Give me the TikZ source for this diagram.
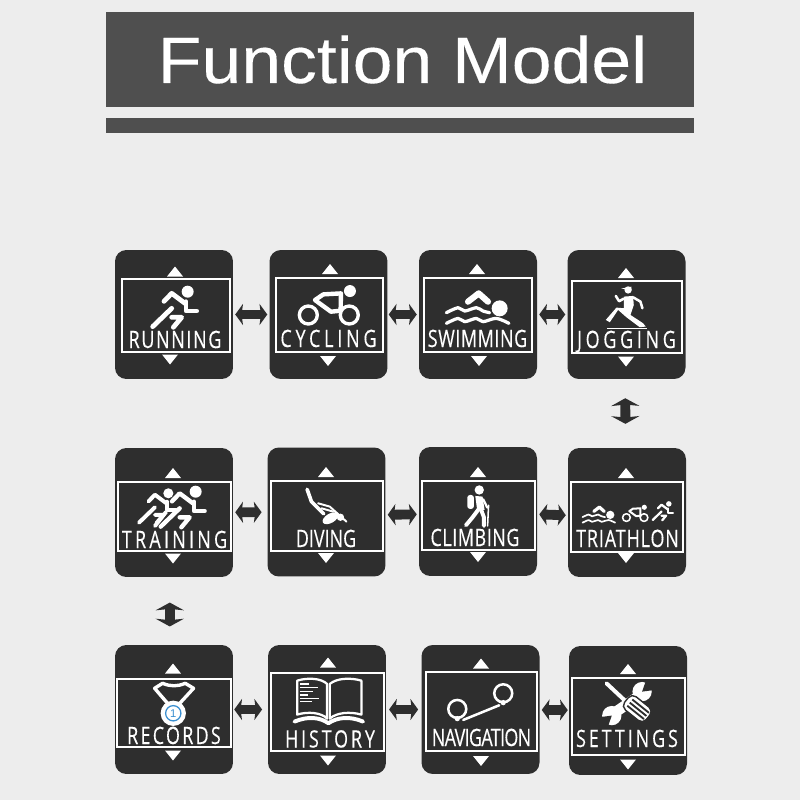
\documentclass[tikz,border=0pt]{standalone}
\usepackage{fontspec}
\usetikzlibrary{arrows.meta}
\setmainfont{Liberation Sans}
\newfontfamily\labelfamily[FakeStretch=0.75, FakeBold=0.3]{Open Sans}
\newfontfamily\titlefamily[FakeStretch=1.09, FakeBold=0.2]{Liberation Sans}
\newcommand{\labelfont}{\labelfamily\fontsize{17}{20}\selectfont}
\definecolor{pagegrey}{HTML}{EDEDED}
\definecolor{bandgrey}{HTML}{4F4F4F}
\definecolor{cardgrey}{HTML}{2E2E2E}
\definecolor{medalblue}{HTML}{3A8FD0}
\tikzset{
    band/.style={fill=bandgrey, inner sep=0pt},
    card/.style={fill=cardgrey, rounded corners=8pt, minimum width=83.9pt, minimum height=91.7pt, inner sep=0pt},
    screen/.style 2 args={draw=white, line width=1.4pt, minimum width=#1*0.711pt, minimum height=#2*0.711pt, inner sep=0pt},
    cardlabel/.style={text=white, font=\labelfont\addfontfeature{LetterSpace=#1}, anchor=base, inner sep=0pt},
    link/.style={{Stealth[length=5.5pt, width=15pt, inset=1pt]}-{Stealth[length=5.5pt, width=15pt, inset=1pt]}, draw=cardgrey, line width=7pt, shorten >=1.4pt, shorten <=1.4pt},
    drop/.style={{Stealth[length=5.5pt, width=20pt, inset=1pt]}-{Stealth[length=5.5pt, width=20pt, inset=1pt]}, draw=cardgrey, line width=7pt},
    ink/.style={draw=white, line cap=round, line join=round},
    upmark/.pic={\fill[white] (-8,5) -- (0,-5) -- (8,5) -- cycle;},
    downmark/.pic={\fill[white] (-8,-5) -- (0,5) -- (8,-5) -- cycle;},
    runner/.pic={
        \fill[white] (38,-55) circle (18);
        \draw[ink, line width=#1] (-33,-26) -- (-10,-50) -- (30,-20);
        \draw[ink, line width=#1] (33,-25) -- (33,3) -- (65,3);
        \draw[ink, line width=#1] (-67,50) -- (-10,-5);
        \draw[ink, line width=#1] (-5,52) -- (20,22) -- (-10,22);
    },
    cyclist/.pic={
        \fill[white] (65,-47) circle (18);
        \draw[ink, line width=#1] (-60,25) circle (27);
        \draw[ink, line width=#1] (63,25) circle (27);
        \draw[ink, line width=1.3*#1] (-40,-20) -- (-15,-37) -- (38,-40) -- (37,12) -- (8,15) -- cycle;
    },
    swimmer/.pic={
        \fill[white] (65,5) circle (24);
        \draw[ink, line width=1.9*#1] (-30,-15) -- (2,-40) -- (30,-15);
        \draw[ink, line width=#1] plot[smooth] coordinates {(-95,18) (-60,3) (-40,13) (-5,3) (15,13) (35,18)};
        \draw[ink, line width=#1] plot[smooth] coordinates {(-95,50) (-60,35) (-40,45) (-5,35) (15,45) (55,35) (93,50)};
    }
}
\begin{document}
\begin{tikzpicture}[x=0.025cm, y=-0.025cm, >=Stealth]
    \fill[pagegrey] (0,0) rectangle (800,800);
    \useasboundingbox (0,0) rectangle (800,800);

    \node[band, minimum width=418pt, minimum height=67pt] (titleband) at (400,59.5) {};
    \node[band, minimum width=418pt, minimum height=10.7pt] (underband) at (400,125.3) {};
    \node[text=white, font=\titlefamily\fontsize{46.7}{52}\selectfont, anchor=base, inner sep=0pt] (title) at (402.5,83) {Function Model};

    \node[card] (running) at (174,314.5) {};
    \node[card] (cycling) at (328.5,314.5) {};
    \node[card] (swimming) at (478,314.5) {};
    \node[card] (jogging) at (626.5,314.5) {};
    \node[card] (training) at (174,512.5) {};
    \node[card] (diving) at (326.5,512) {};
    \node[card] (climbing) at (478,511.5) {};
    \node[card] (triathlon) at (627,512.5) {};
    \node[card] (records) at (174,709.5) {};
    \node[card] (history) at (327,709.5) {};
    \node[card] (navigation) at (480.5,709.5) {};
    \node[card] (settings) at (628,710.5) {};

    \node[screen={108}{73}] (runningscreen) at (176,315.5) {};
    \node[screen={107}{74}] (cyclingscreen) at (329.5,315) {};
    \node[screen={108}{74}] (swimmingscreen) at (478,315) {};
    \node[screen={110}{72}] (joggingscreen) at (627,317) {};
    \node[screen={113}{69}] (trainingscreen) at (174.5,516.5) {};
    \node[screen={112}{70}] (divingscreen) at (327,516) {};
    \node[screen={113}{69}] (climbingscreen) at (478.5,515.5) {};
    \node[screen={112}{70}] (triathlonscreen) at (627,517) {};
    \node[screen={114}{68}] (recordsscreen) at (174,713) {};
    \node[screen={113}{78}] (historyscreen) at (327.5,712) {};
    \node[screen={111}{79}] (navigationscreen) at (481.5,711.5) {};
    \node[screen={113}{77}] (settingsscreen) at (628.5,716.5) {};

    \node[cardlabel=7] (runninglabel) at (175,348) {RUNNING};
    \node[cardlabel=16] (cyclinglabel) at (328.5,347) {CYCLING};
    \node[cardlabel=2.4] (swimminglabel) at (477.5,347) {SWIMMING};
    \node[cardlabel=15.5] (jogginglabel) at (626.5,348) {JOGGING};
    \node[cardlabel=13.6] (traininglabel) at (174.5,548) {TRAINING};
    \node[cardlabel=0] (divinglabel) at (326,547) {DIVING};
    \node[cardlabel=2.4] (climbinglabel) at (475,546) {CLIMBING};
    \node[cardlabel=3.7] (triathlonlabel) at (627.5,547) {TRIATHLON};
    \node[cardlabel=9.5] (recordslabel) at (174,744) {RECORDS};
    \node[cardlabel=12] (historylabel) at (330,747.5) {HISTORY};
    \node[cardlabel=-2.8] (navigationlabel) at (481.5,746) {NAVIGATION};
    \node[cardlabel=12.2] (settingslabel) at (627,747) {SETTINGS};

    \pic at (175,271.5) {upmark};
    \pic at (170,359.5) {downmark};
    \pic at (330,269) {upmark};
    \pic at (328,361) {downmark};
    \pic at (477,269) {upmark};
    \pic at (479,361) {downmark};
    \pic at (626,273) {upmark};
    \pic at (626,361.5) {downmark};
    \pic at (173,473) {upmark};
    \pic at (173,558.5) {downmark};
    \pic at (326,472) {upmark};
    \pic at (326,558) {downmark};
    \pic at (478,472) {upmark};
    \pic at (478,557) {downmark};
    \pic at (626,473) {upmark};
    \pic at (626,558) {downmark};
    \pic at (173,668.5) {upmark};
    \pic at (173,755.5) {downmark};
    \pic at (328,662.5) {upmark};
    \pic at (328,760.5) {downmark};
    \pic at (481,663.5) {upmark};
    \pic at (481,761) {downmark};
    \pic at (628,669) {upmark};
    \pic at (628,764.5) {downmark};

    \draw[link] (running) -- (cycling);
    \draw[link, shorten <=0.7pt, shorten >=1.4pt] (cycling) -- (swimming);
    \draw[link] (swimming) -- (jogging);
    \draw[drop, shorten <=13.5pt, shorten >=17pt] ([xshift=-1pt]jogging.south) -- ([xshift=-1pt]triathlon.north);
    \draw[link, shorten >=4pt] (training) -- (diving);
    \draw[link] ([yshift=-2pt]diving.east) -- ([yshift=-2pt]climbing.west);
    \draw[link] ([yshift=-2pt]climbing.east) -- ([yshift=-2pt]triathlon.west);
    \draw[drop, shorten <=18pt, shorten >=13pt] ([xshift=-3pt]training.south) -- ([xshift=-3pt]records.north);
    \draw[link, shorten <=0.7pt, shorten >=4pt] (records) -- (history);
    \draw[link, shorten <=2pt, shorten >=2.2pt] (history) -- (navigation);
    \draw[link, shorten >=0.7pt] (navigation) -- (settings);

    \pic[scale=0.333] at (175,310) {runner=3.4pt};
    \pic[scale=0.333] at (328.3,306.7) {cyclist=2.4pt};
    \pic[scale=0.333] at (478,306.7) {swimmer=2.3pt};
    \pic[scale=0.28] at (157.7,508.7) {runner=2.8pt};
    \pic[scale=0.333] at (183,510) {runner=3.1pt};
    \pic[scale=0.173] at (599,514) {swimmer=1.2pt};
    \pic[scale=0.143] at (635,514) {cyclist=1.1pt};
    \pic[scale=0.153] at (663,512.3) {runner=1.6pt};
    \draw[ink, line width=2.8pt] (155,526) -- (166,512);

    \begin{scope}[shift={(400,240)}, scale=0.333]
        \fill[white] (685,150) circle (11);
        \fill[white] (664,146) -- (695,140) -- (695,150) -- cycle;
        \fill[white] (672,170) -- (700,168) -- (702,195) -- (692,225) -- (730,250) -- (738,260) -- (720,262) -- (680,232) -- (655,210) -- (630,247) -- (618,240) -- (650,203) -- (672,205) -- cycle;
        \draw[ink, line width=1.8pt] (648,168) -- (658,184) -- (672,176);
        \draw[ink, line width=1.8pt] (700,172) -- (722,185) -- (728,205);
        \draw[white, line width=0.7pt] (622,265) -- (742,265);
    \end{scope}

    \begin{scope}[shift={(100,440)}, scale=0.333]
        \draw[ink, line width=2.6pt] (622,148) -- (635,185) -- (672,222);
        \fill[white, rotate around={30:(692,235)}] (692,235) ellipse (26 and 14);
        \fill[white] (722,232) circle (11);
        \draw[ink, line width=1.4pt] (655,190) -- (690,200) -- (740,245);
        \draw[ink, line width=1.4pt] (665,205) -- (700,215);
    \end{scope}

    \begin{scope}[shift={(400,440)}, scale=0.333]
        \fill[white] (238,150) circle (14);
        \fill[white, rounded corners=2pt] (202,165) rectangle (222,207);
        \fill[white] (226,168) -- (248,170) -- (254,210) -- (232,212) -- cycle;
        \draw[ink, line width=2.8pt] (236,208) -- (218,232) -- (198,256);
        \draw[ink, line width=2.8pt] (243,208) -- (252,232) -- (252,258);
        \draw[ink, line width=1.6pt] (250,178) -- (262,203);
        \draw[ink, line width=1.1pt] (266,196) -- (263,258);
    \end{scope}

    \begin{scope}[shift={(100,640)}, scale=0.333]
        \draw[ink, line width=2.4pt] (207,195) -- (164,145) -- (188,130) .. controls (212,140) and (232,140) .. (256,130) -- (281,145) -- (235,195);
        \fill[white] (220,220) circle (38);
        \draw[medalblue, line width=0.9pt] (220,220) circle (23);
        \node[text=medalblue, font=\fontsize{8}{9}\selectfont, inner sep=0pt] (medalrank) at (220,220) {1};

        \draw[ink, line width=1.6pt] (592,122) .. controls (625,112) and (665,115) .. (682,132) -- (682,236) .. controls (665,218) and (625,214) .. (592,224) -- cycle;
        \draw[ink, line width=1.6pt] (690,132) .. controls (710,115) and (750,112) .. (785,122) -- (785,224) .. controls (750,214) and (710,218) .. (690,236) -- cycle;
        \draw[ink, line width=2.8pt] (584,245) .. controls (625,228) and (660,232) .. (686,250) .. controls (712,232) and (750,228) .. (790,245);
        \draw[white, line width=1.1pt] (600,132) -- (628,132);
        \draw[white, line width=1.1pt] (600,143) -- (656,143);
        \draw[white, line width=1.1pt] (600,154) -- (640,154);
        \draw[white, line width=1.1pt] (600,165) -- (626,165);
        \draw[white, line width=1.1pt] (600,175) -- (657,175);
        \draw[white, line width=1.1pt] (600,185) -- (638,185);
    \end{scope}

    \begin{scope}[shift={(400,640)}, scale=0.333]
        \draw[white, line width=1.8pt] (172,207) circle (27);
        \draw[white, line width=1.8pt] (310,160) circle (27);
        \fill[white] (172,236) circle (8);
        \fill[white] (310,188) circle (8);
        \draw[ink, line width=1.8pt] (190,240) -- (298,196);

        \draw[ink, line width=7.5pt, line cap=butt] (715,170) -- (645,218);
        \fill[white] (727,155) circle (29);
        \fill[white] (636,227) circle (29);
        \fill[cardgrey] (727,155) -- (765,150) -- (740,118) -- cycle;
        \fill[cardgrey] (636,227) -- (598,232) -- (623,264) -- cycle;
        \draw[ink, line width=2.8pt] (620,130) -- (682,188);
        \filldraw[white, draw=cardgrey, line width=1pt, rounded corners=4pt] (696,160) -- (664,200) -- (729,252) -- (761,212) -- cycle;
        \draw[cardgrey, line width=1.3pt] (697.5,178.6) -- (747.5,218.6);
        \draw[cardgrey, line width=1.3pt] (690,188) -- (740,228);
        \draw[cardgrey, line width=1.3pt] (682.5,197.4) -- (732.5,237.4);
    \end{scope}
\end{tikzpicture}
\end{document}
